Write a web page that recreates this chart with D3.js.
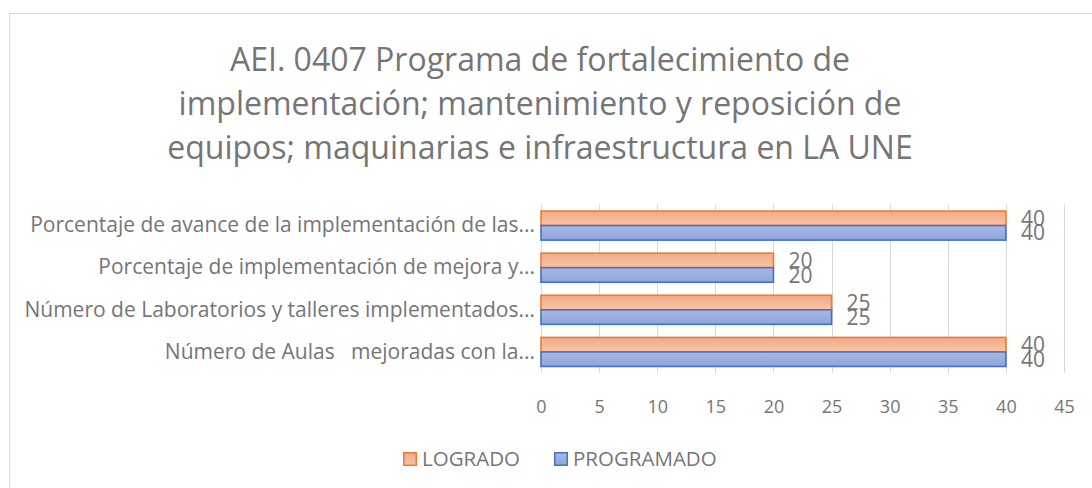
<!DOCTYPE html>
<html>
<head>
<meta charset="utf-8">
<script src="https://cdn.jsdelivr.net/npm/d3@7"></script>
<style>
  body{margin:0;background:#fff;}
  svg text{font-family:"Open Sans",sans-serif;fill:#757575;white-space:pre;}
</style>
</head>
<body>
<div class="chart"></div>
<script>
const titleLines=['AEI. 0407 Programa de fortalecimiento de','implementación; mantenimiento y reposición de','equipos; maquinarias e infraestructura en LA UNE']
const categories=['Porcentaje de avance de la implementación de las...','Porcentaje de implementación de mejora y...','Número de Laboratorios y talleres implementados...','Número de Aulas   mejoradas con la...']
const series=['LOGRADO','PROGRAMADO']
const logrado=[40,20,25,40]
const programado=[40,20,25,40]
const xTicks=[0,5,10,15,20,25,30,35,40,45]

const width=1092,height=488
const colors={LOGRADO:{stroke:'#ed7d31',top:'#f3aa85',bottom:'#f7c4a8'},PROGRAMADO:{stroke:'#4472c4',top:'#a8b9e6',bottom:'#8ea5da'}}

const svg=d3.select('.chart').append('svg')
	.attr('width',width)
	.attr('height',height)

// chart frame
svg.append('rect')
	.attr('x',9.5).attr('y',13.5)
	.attr('width',1100).attr('height',500)
	.attr('fill','#fff')
	.attr('stroke','#d9d9d9')

const defs=svg.append('defs')
series.forEach(s=>{
	const g=defs.append('linearGradient')
		.attr('id','grad'+s)
		.attr('x1',0).attr('y1',0).attr('x2',0).attr('y2',1)
	g.append('stop').attr('offset','0%').attr('stop-color',colors[s].top)
	g.append('stop').attr('offset','100%').attr('stop-color',colors[s].bottom)
})

svg.selectAll('.title')
	.data(titleLines)
	.enter()
	.append('text')
	.attr('class','title')
	.attr('x',540)
	.attr('y',(d,i)=>71+i*44)
	.attr('text-anchor','middle')
	.style('font-size','32px')
	.text(d=>d)

const xScale=d3.scaleLinear()
	.domain([0,45])
	.range([541,1064])

const yScale=d3.scaleBand()
	.domain(categories)
	.range([204.5,373])
	.paddingInner(0.31)
	.paddingOuter(0.155)

const subScale=d3.scaleBand()
	.domain(series)
	.range([0,yScale.bandwidth()])

// gridlines
svg.append('g')
	.selectAll('line')
	.data(xTicks)
	.enter()
	.append('line')
	.attr('x1',d=>Math.round(xScale(d))+0.5)
	.attr('x2',d=>Math.round(xScale(d))+0.5)
	.attr('y1',204.5)
	.attr('y2',373)
	.attr('stroke','#d9d9d9')
	.attr('stroke-width',1)

const xAxis=d3.axisBottom(xScale)
	.tickValues(xTicks)
	.tickSize(0)
	.tickPadding(0)

const gx=svg.append('g')
	.attr('transform','translate(0,400)')
	.call(xAxis)
gx.select('.domain').remove()
gx.selectAll('text')
	.attr('dy','0.35em')
	.attr('y',7)
	.style('font-size','18px')
	.attr('fill','#757575')

const yAxis=d3.axisLeft(yScale)
	.tickSize(0)
	.tickPadding(0)

const gy=svg.append('g')
	.attr('transform','translate(535,0)')
	.call(yAxis)
gy.select('.domain').remove()
gy.selectAll('text')
	.style('font-size','21px')
	.attr('fill','#757575')

const rows=categories.map((c,i)=>({category:c,values:[{key:'LOGRADO',value:logrado[i]},{key:'PROGRAMADO',value:programado[i]}]}))

const groups=svg.selectAll('.group')
	.data(rows)
	.enter()
	.append('g')
	.attr('class','group')
	.attr('transform',d=>`translate(0,${yScale(d.category)})`)

groups.selectAll('rect')
	.data(d=>d.values)
	.enter()
	.append('rect')
	.attr('x',xScale(0))
	.attr('y',d=>subScale(d.key))
	.attr('width',d=>xScale(d.value)-xScale(0))
	.attr('height',subScale.bandwidth())
	.attr('fill',d=>`url(#grad${d.key})`)
	.attr('stroke',d=>colors[d.key].stroke)
	.attr('stroke-width',1.6)

groups.selectAll('.label')
	.data(d=>d.values)
	.enter()
	.append('text')
	.attr('class','label')
	.attr('x',d=>xScale(d.value)+15)
	.attr('y',d=>subScale(d.key)+subScale.bandwidth()/2)
	.attr('dy','0.36em')
	.style('font-size','21px')
	.text(d=>d.value)

// legend
const legend=svg.append('g')
	.selectAll('g')
	.data(series)
	.enter()
	.append('g')
	.attr('transform',(d,i)=>`translate(${[403,554][i]},452)`)

legend.append('rect')
	.attr('x',0.75).attr('y',0.75)
	.attr('width',12.5).attr('height',12.5)
	.attr('fill',d=>`url(#grad${d})`)
	.attr('stroke',d=>colors[d].stroke)
	.attr('stroke-width',1.5)

legend.append('text')
	.attr('x',19)
	.attr('y',7)
	.attr('dy','0.36em')
	.style('font-size','20.5px')
	.text(d=>d)
</script>
</body>
</html>
